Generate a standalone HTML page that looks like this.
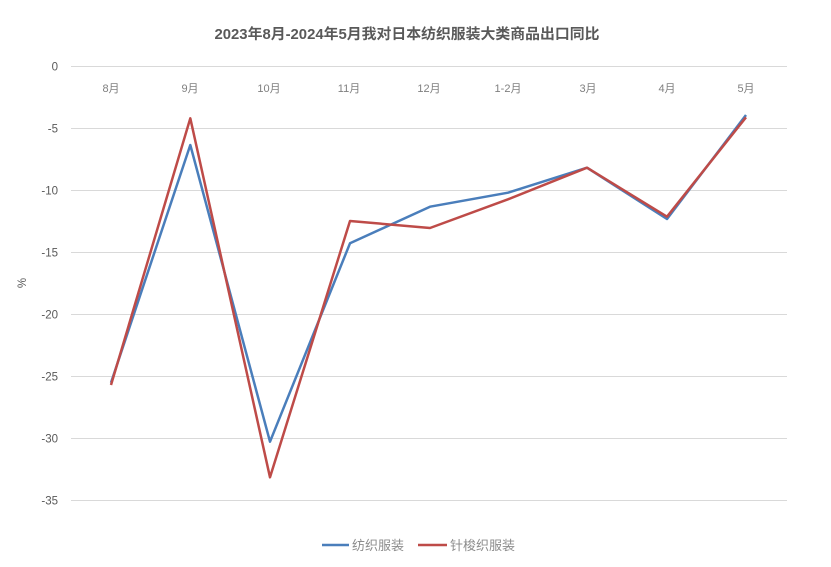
<!DOCTYPE html>
<html><head><meta charset="utf-8"><style>
html,body{margin:0;padding:0;background:#fff;}
svg{display:block;}
</style></head><body>
<svg width="831" height="567" viewBox="0 0 831 567" xmlns="http://www.w3.org/2000/svg" font-family="Liberation Sans, Noto Sans CJK SC, sans-serif">
<rect width="831" height="567" fill="#fff"/>
<text x="407" y="39" text-anchor="middle" font-size="14.5" font-weight="bold" fill="#595959" textLength="385" lengthAdjust="spacingAndGlyphs">2023年8月-2024年5月我对日本纺织服装大类商品出口同比</text>
<g stroke="#d9d9d9" stroke-width="1">
<line x1="71" y1="66.5" x2="787" y2="66.5"/>
<line x1="71" y1="128.5" x2="787" y2="128.5"/>
<line x1="71" y1="190.5" x2="787" y2="190.5"/>
<line x1="71" y1="252.5" x2="787" y2="252.5"/>
<line x1="71" y1="314.5" x2="787" y2="314.5"/>
<line x1="71" y1="376.5" x2="787" y2="376.5"/>
<line x1="71" y1="438.5" x2="787" y2="438.5"/>
<line x1="71" y1="500.5" x2="787" y2="500.5"/>
</g>
<g font-size="11.5" fill="#595959" text-anchor="end">
<text x="58" y="70.5">0</text>
<text x="58" y="132.5">-5</text>
<text x="58" y="194.5">-10</text>
<text x="58" y="256.5">-15</text>
<text x="58" y="318.5">-20</text>
<text x="58" y="380.5">-25</text>
<text x="58" y="442.5">-30</text>
<text x="58" y="504.5">-35</text>
</g>
<text transform="translate(26,283) rotate(-90)" text-anchor="middle" font-size="11.5" fill="#595959">%</text>
<g font-size="11" fill="#7f7f7f" text-anchor="middle">
<text x="111" y="92">8月</text>
<text x="190" y="92">9月</text>
<text x="269" y="92">10月</text>
<text x="349" y="92">11月</text>
<text x="429" y="92">12月</text>
<text x="508" y="92">1-2月</text>
<text x="588" y="92">3月</text>
<text x="667" y="92">4月</text>
<text x="746" y="92">5月</text>
</g>
<polyline fill="none" stroke="#4a7ebb" stroke-width="2.5" stroke-linejoin="round" points="111,382.7 190.3,145 270,441.7 350,243.3 430,206.7 508,192.7 587,167.7 667,219 746,115"/>
<polyline fill="none" stroke="#be4b48" stroke-width="2.5" stroke-linejoin="round" points="111,385 190.3,118.3 270,477.3 350,221 430,228 508,199.3 587,167.7 667,216.7 746,117.3"/>
<line x1="322" y1="545" x2="349" y2="545" stroke="#4a7ebb" stroke-width="2.5"/>
<text x="352" y="550" font-size="13" fill="#8c8c8c">纺织服装</text>
<line x1="418" y1="545" x2="447" y2="545" stroke="#be4b48" stroke-width="2.5"/>
<text x="450" y="550" font-size="13" fill="#8c8c8c">针梭织服装</text>
</svg>
</body></html>
